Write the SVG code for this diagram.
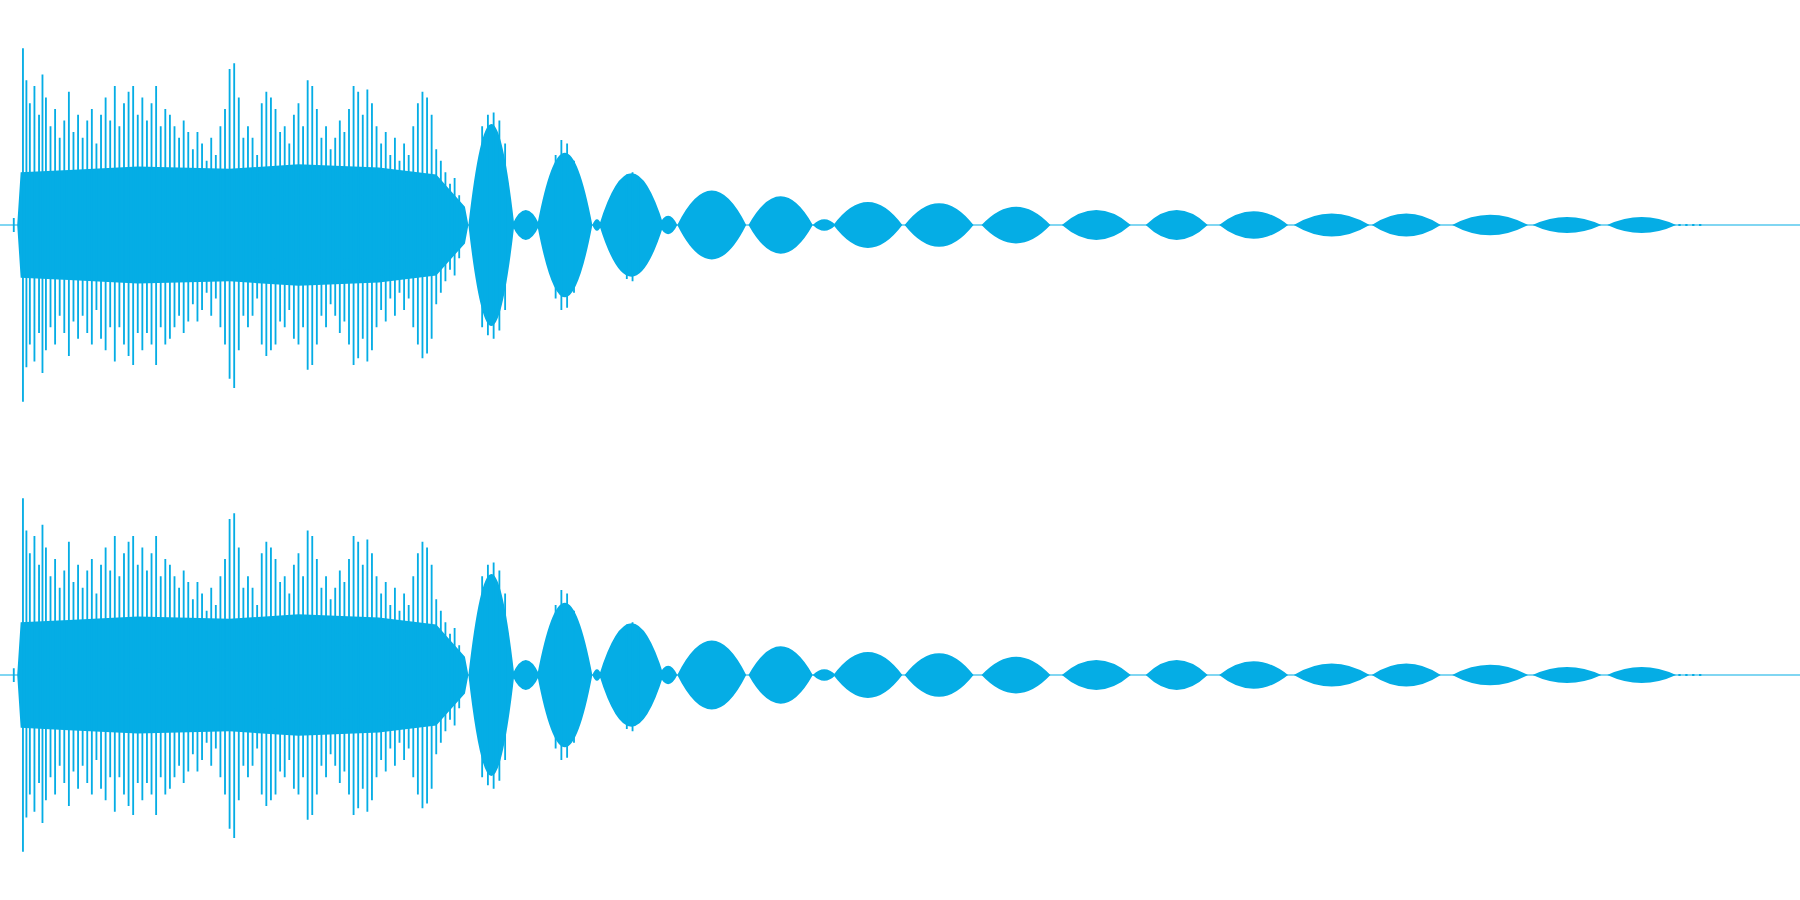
<svg xmlns="http://www.w3.org/2000/svg" width="1800" height="900" viewBox="0 0 1800 900">
<style>.w{fill:#05ade5}.s{stroke:#05ade5;stroke-width:1.6;fill:none}.c{stroke:#05ade5;stroke-width:1;fill:none}</style>
<rect width="1800" height="900" fill="#fff"/>
<defs>
<g id="ch">
<line class="c" x1="0" y1="196" x2="1568" y2="196"/>
<path class="w" d="M15 196 L18 150 L60 148 L120 145 L200 147 L260 143 L330 146 L380 152 L405 180 L408 196 L405 212 L380 240 L330 246 L260 249 L200 245 L120 247 L60 244 L18 242 Z"/>
<path class="s" d="M12 190V202M20 42V350M23 70V320M26 90V300M30 75V315M34 100V290M37 65V325M40 85V305M44 110V285M48 95V300M52 120V275M56 105V290M60 80V310M64 115V280M68 100V295M72 120V275M76 105V290M80 95V300M84 125V270M88 100V295M92 85V305M96 105V285M100 75V315M104 110V285M108 90V300M112 80V310M116 75V318M120 100V290M124 85V305M128 105V290M132 90V300M136 75V318M140 110V285M144 95V300M148 100V295M152 110V285M156 120V275M160 105V290M164 115V280M168 130V265M172 115V280M176 125V270M180 140V255M184 120V275M188 135V260M192 110V285M196 95V300M200 60V330M204 55V338M208 85V305M212 120V275M216 110V285M220 120V275M224 135V260M228 90V300M232 80V310M236 85V305M240 95V300M244 115V280M248 110V285M252 125V270M256 100V295M260 90V300M264 110V285M268 70V322M272 75V318M276 95V300M280 120V275M284 110V285M288 130V265M292 120V275M296 105V290M300 115V280M304 95V300M308 75V318M312 80V312M316 100V295M320 78V315M324 90V305M328 110V285M332 125V270M336 115V280M340 135V260M344 120V275M348 140V255M352 125V270M356 135V260M360 110V285M364 90V300M368 80V312M372 85V308M376 100V295M380 130V265M384 140V255M388 150V245M392 160V235M396 155V240M400 170V225"/>
<path class="w" d="M408 196Q428 20 448 196Q428 372 408 196Z M446 196Q458 170 470 196Q458 222 446 196Z M468 196Q492 70 516 196Q492 322 468 196Z M516 196Q520 186 524 196Q520 206 516 196Z M522 196Q550 106 578 196Q550 286 522 196Z M574 196Q582 180 590 196Q582 212 574 196Z M590 196Q620 136 650 196Q620 256 590 196Z M652 196Q680 146 708 196Q680 246 652 196Z M708 196Q718 186 728 196Q718 206 708 196Z M726 196Q756 156 786 196Q756 236 726 196Z M788 196Q818 158 848 196Q818 234 788 196Z M855 196Q885 164 915 196Q885 228 855 196Z M925 196Q955 170 985 196Q955 222 925 196Z M998 196Q1025 170 1052 196Q1025 222 998 196Z M1062 196Q1092 172 1122 196Q1092 220 1062 196Z M1127 196Q1160 176 1193 196Q1160 216 1127 196Z M1195 196Q1225 176 1255 196Q1225 216 1195 196Z M1265 196Q1298 178 1331 196Q1298 214 1265 196Z M1335 196Q1365 182 1395 196Q1365 210 1335 196Z M1400 196Q1430 182 1460 196Q1430 210 1400 196Z"/>
<path class="s" d="M420 110V285M425 100V292M430 98V295M435 105V288M440 125V270M484 135V260M489 122V270M494 125V268M500 140V255M546 152V243M551 150V245M556 158V238M1462 196h2M1468 196h2M1474 196h2M1480 196h2"/>
</g>
</defs>
<g transform="scale(1.148)">
<use href="#ch"/>
<use href="#ch" transform="translate(0,392)"/>
</g>
</svg>
